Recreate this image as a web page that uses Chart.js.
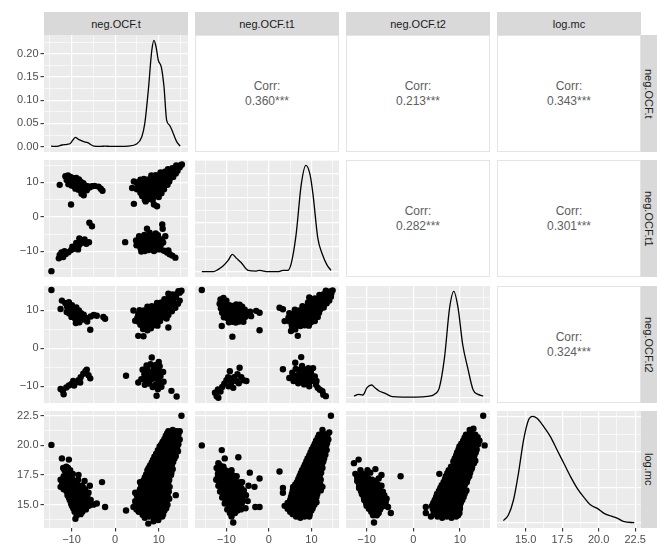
<!DOCTYPE html>
<html><head><meta charset="utf-8">
<script src="https://cdn.jsdelivr.net/npm/chart.js@4.4.0/dist/chart.umd.min.js"></script>
<style>
html,body{margin:0;padding:0;background:#fff;}
body{width:657px;height:549px;position:relative;overflow:hidden;font-family:"Liberation Sans",Arial,sans-serif;}
canvas{position:absolute;}
.strip{position:absolute;background:#D9D9D9;color:#1A1A1A;font-size:11px;display:flex;align-items:center;justify-content:center;white-space:nowrap;}
.vstrip{writing-mode:vertical-rl;}
.corr{position:absolute;background:#fff;border:1px solid #E4E4E4;box-sizing:border-box;color:#5E5E5E;font-size:12px;line-height:15px;display:flex;flex-direction:column;align-items:center;justify-content:center;}
</style>
</head><body>
<script>
// ---------------- DATA ----------------
const varNames = ['neg.OCF.t','neg.OCF.t1','neg.OCF.t2','log.mc'];
const ticksOCF = [-10,0,10];
const ticksMc  = [15,17.5,20,22.5];
const ticksDensOCF = [0,0.05,0.1,0.15,0.2];
const ticksDensMc  = [0,0.1,0.2,0.3];
const corrRows = [0,0,0,1,1,2];
const corrCols = [1,2,3,2,3,3];
const corrValues = ['0.360***','0.213***','0.343***','0.282***','0.301***','0.324***'];

// densities (diagonal)
const dens_t_x = [-14.7,-13.3,-12.2,-11,-10.3,-9.7,-9.1,-8.4,-7.2,-6.3,-4.9,-3.4,-2.3,-1.1,1.1,3,4.9,6.1,6.8,7.6,8.4,8.9,9.4,9.9,10.6,11.2,11.8,12.5,13.3,14.1,14.9];
const dens_t_y = [0.001,0.0005,0.0036,0.005,0.007,0.014,0.02,0.0157,0.011,0.0086,0.0014,0.0005,0.0014,0.0005,0.0005,0.0014,0.0057,0.021,0.05,0.121,0.207,0.229,0.214,0.186,0.171,0.129,0.057,0.046,0.029,0.011,0.0014];
const dens_t1_x = [-15.8,-13.1,-11.9,-10.8,-9.6,-8.6,-7.6,-6.5,-4.9,-3,-2.2,-0.2,2.1,3.3,4.4,5.2,6.4,7.6,8.7,9.7,10.4,11.5,12.6,13.6,14.6];
const dens_t1_y = [0,0,0.0048,0.0114,0.0229,0.035,0.027,0.0181,0.0026,0.0013,0.0026,0,0,0.0026,0.0026,0.0149,0.0754,0.1763,0.216,0.1966,0.1555,0.0687,0.035,0.0149,0.0026];
const dens_t2_x = [-12.7,-11.7,-10.8,-9.9,-8.9,-8.2,-7.3,-5.9,-4.5,-2.3,0.6,3.1,4.5,5.6,6.7,7.8,8.7,9.6,10.6,11.7,12.8,13.9,15.0];
const dens_t2_y = [0.0038,0.0074,0.006,0.0226,0.0286,0.0226,0.0151,0.0091,0.0022,0.0014,0.0014,0.0031,0.0074,0.0226,0.0902,0.203,0.24,0.203,0.12,0.0662,0.0187,0.0074,0.0038];
const dens_mc_x = [13.47,13.81,14.16,14.5,14.85,15.19,15.49,15.77,16.23,16.69,17.15,17.61,18.07,18.53,18.99,19.45,19.91,20.37,20.83,21.29,21.75,22.44];
const dens_mc_y = [0.0057,0.0216,0.0639,0.1392,0.2331,0.2898,0.3,0.2943,0.2709,0.2427,0.2049,0.1674,0.1299,0.0969,0.0714,0.0498,0.0405,0.0264,0.0189,0.0123,0.0027,0];

// scatter: x = column variable, y = row variable
const pts_t_t1 = [
[-12.7,9.3],[-11.4,11.8],[-10.8,12.0],[-10.2,11.6],[-9.6,11.2],[-8.9,11.3],[-8.3,10.9],
[-11.1,10.7],[-10.5,10.3],[-9.9,10.5],[-9.2,10.1],[-8.6,9.9],[-7.9,10.2],[-7.3,9.8],
[-10.7,9.5],[-10.0,9.1],[-9.4,8.9],[-8.8,9.2],[-8.1,9.0],[-7.5,8.7],[-6.9,9.1],[-6.3,8.9],
[-9.1,8.2],[-8.4,7.9],[-7.7,7.5],[-7.1,8.1],[-6.5,7.7],[-5.9,8.5],[-5.3,8.9],
[-7.7,6.7],[-7.2,6.3],[-4.7,9.0],[-3.8,8.8],[-3.3,8.2],[-2.9,7.6],[-10.1,3.6],
[3.9,8.4],[4.3,10.3],[4.3,3.8],[5.8,10.8],
[6.8,5.0],[7.8,5.2],[8.6,4.9],[7.0,4.5],[8.9,3.6],[9.6,3.1],
[6.2,6.1],[7.2,6.0],[8.2,6.2],[9.2,6.0],[10.0,5.8],
[5.8,7.0],[6.8,7.1],[7.8,6.9],[8.8,7.0],[9.8,7.1],[10.6,6.9],
[5.0,8.0],[5.9,8.1],[6.8,7.9],[7.7,8.1],[8.6,8.0],[9.5,7.9],[10.4,8.1],[11.2,8.0],
[5.2,9.1],[6.2,9.0],[7.2,9.1],[8.2,8.9],[9.2,9.1],[10.2,9.0],[11.2,9.1],[12.0,9.3],
[4.9,10.0],[5.7,9.9],[6.5,10.1],[7.5,10.0],[8.5,9.9],[9.5,10.1],[10.5,10.0],[11.5,10.0],[12.4,10.3],
[6.6,11.0],[7.6,10.9],[8.6,11.1],[9.6,11.0],[10.6,11.1],[11.6,11.0],[12.6,11.2],[13.3,11.6],
[8.3,12.0],[9.3,12.1],[10.3,11.9],[11.2,12.1],[12.1,12.0],[13.0,12.3],[13.9,12.6],
[10.4,12.9],[11.4,13.1],[12.4,13.0],[13.4,13.2],[14.3,13.4],
[12.1,13.8],[13.1,14.1],[14.0,14.2],[14.8,14.4],
[14.0,14.9],[15.0,15.0],[15.3,15.2],
[-14.6,-15.7],[-12.9,-12.0],[-12.7,-11.0],[-12.3,-10.3],[-11.9,-11.6],[-11.3,-10.7],[-11.6,-9.9],[-10.7,-10.2],[-10.1,-9.6],[-9.5,-9.2],[-9.0,-8.7],[-8.5,-9.4],[-8.3,-8.2],[-7.8,-7.6],[-7.2,-7.1],[-6.6,-7.8],[-6.0,-7.3],[-8.9,-7.5],[-9.8,-8.6],[-8.2,-6.2],[-7.0,-6.5],[-5.9,-1.7],[-5.3,-2.7],
[2.3,-7.3],[4.8,-6.8],[4.9,-8.2],[5.6,-7.4],[5.8,-9.0],[6.2,-6.2],[6.5,-8.0],[6.7,-5.2],[7.0,-7.0],[7.3,-3.4],[7.4,-8.6],[7.6,-6.0],[7.9,-4.6],[8.0,-7.6],[8.3,-9.2],[8.5,-5.4],[8.7,-6.8],[9.0,-8.2],[9.3,-4.8],[9.5,-7.2],[9.6,-9.4],[10.0,-6.2],[10.3,-8.6],[10.8,-2.2],[10.9,-3.4],[11.0,-7.4],[11.2,-9.8],[11.5,-5.6],[11.9,-10.3],[12.5,-10.8],[13.1,-11.2],[13.8,-11.8],[6.0,-10.0],[5.5,-5.6],[6.9,-6.3],[8.1,-6.5],[9.1,-5.9],[10.5,-7.9],[7.1,-9.3],
[6.0,-7.8],[7.3,-7.8],[8.4,-7.0],[9.8,-7.9],[6.6,-6.6],[7.8,-5.3],[8.9,-6.2],[9.8,-5.3],[10.7,-6.6],[7.7,-9.6],[8.9,-9.9],[6.8,-9.9],[10.4,-9.4],[12.2,-9.7]
];
const pts_t_t2 = [
[-14.6,15.4],
[-12.5,10.4],[-12.2,12.6],[-11.4,11.9],[-10.6,12.2],[-9.9,11.4],[-11.0,11.0],[-10.3,10.5],[-9.6,10.2],[-8.9,10.8],[-8.3,10.0],[-11.1,9.6],[-10.5,9.2],[-9.8,9.4],[-9.1,9.1],[-8.5,8.7],[-7.8,9.3],[-7.2,8.9],[-10.0,8.3],[-9.3,8.0],[-8.7,7.6],[-8.0,7.9],[-7.4,7.6],[-6.8,8.1],[-6.4,7.1],[-8.2,6.9],[-9.0,6.7],[-5.6,8.4],[-4.9,8.8],[-4.2,8.6],[-2.7,8.3],[-2.3,7.8],[-5.7,4.9],
[4.2,10.0],[4.6,7.3],[5.3,3.3],[6.5,3.2],[12.2,5.5],
[6.4,5.1],[7.4,4.8],[8.2,5.3],
[5.8,6.2],[6.8,6.0],[7.8,6.3],[8.8,6.1],[9.7,6.0],
[5.4,7.0],[6.3,7.2],[7.3,7.0],[8.3,7.1],[9.3,7.0],[10.3,7.2],
[5.1,8.1],[6.0,8.0],[7.0,8.2],[8.0,7.9],[9.0,8.1],[10.0,8.0],[10.9,8.2],[11.8,7.9],
[5.3,9.1],[6.3,9.0],[7.3,9.2],[8.3,9.0],[9.3,9.1],[10.3,9.0],[11.2,9.3],[12.2,8.8],
[5.6,10.1],[6.6,10.0],[7.6,10.2],[8.6,10.0],[9.6,10.1],[10.6,10.0],[11.6,10.2],[12.3,10.5],[13.0,9.8],
[7.4,11.0],[8.4,11.1],[9.4,10.9],[10.4,11.1],[11.4,11.0],[12.4,11.2],[13.1,11.6],[13.8,10.7],
[9.6,12.0],[10.6,12.1],[11.5,11.9],[12.4,12.2],[13.3,12.4],[14.4,11.8],
[11.3,13.0],[12.2,13.1],[13.1,13.2],[13.9,13.5],[14.8,12.6],
[12.2,14.4],[13.2,14.2],[14.1,14.3],[14.8,14.7],
[14.5,15.1],[15.2,15.2],
[-12.5,-10.7],[-11.8,-12.1],[-12.0,-11.2],[-11.2,-10.3],[-10.6,-9.8],[-10.0,-9.4],[-9.4,-9.8],[-8.9,-8.9],[-8.4,-8.4],[-7.9,-7.6],[-7.3,-6.7],[-6.8,-6.0],[-6.5,-5.6],[-6.1,-7.1],[-5.7,-7.9],[-8.0,-9.0],[-9.6,-8.6],
[2.5,-7.2],[5.3,-9.0],[6.0,-8.1],[6.7,-6.8],[7.1,-8.6],[7.4,-5.4],[7.6,-7.4],[7.9,-9.3],[8.1,-4.2],[8.4,-2.4],[8.3,-6.3],[8.6,-8.0],[8.9,-5.2],[9.1,-7.1],[9.3,-9.6],[9.6,-6.0],[9.9,-8.4],[10.2,-4.7],[10.4,-7.3],[10.6,-10.1],[11.0,-6.2],[11.1,-8.8],[7.2,-4.5],[9.5,-12.5],[12.9,-11.2],[14.1,-12.7],[6.3,-5.6],[10.0,-3.6],
[7.0,-7.6],[8.0,-8.2],[8.9,-7.6],[9.6,-8.0],[10.3,-6.2],[7.9,-6.8],[8.8,-6.6],[9.3,-4.4],[6.8,-9.6],[8.6,-10.2],[10.0,-9.5],[7.4,-6.2],[9.8,-10.8]
];
const pts_t1_t2 = [
[-15.8,15.4],
[-11.4,12.9],[-10.7,13.3],[-10.0,12.6],[-11.6,11.8],[-10.8,11.6],[-10.1,11.7],[-9.3,11.4],[-8.5,11.2],[-7.7,11.6],[-6.9,11.5],[-6.3,11.0],[-11.3,10.6],[-10.5,10.4],[-9.7,10.5],[-8.9,10.2],[-8.1,10.4],[-7.3,10.1],[-6.5,10.3],[-5.7,10.2],[-11.0,9.4],[-10.2,9.2],[-9.4,9.1],[-8.6,9.3],[-7.8,9.0],[-7.0,9.2],[-6.2,9.0],[-5.2,9.4],[-4.4,9.7],[-3.0,9.9],[-2.2,9.4],[-10.6,8.2],[-9.8,8.0],[-9.0,7.9],[-8.2,8.1],[-7.4,7.9],[-6.6,8.0],[-5.6,8.3],[-9.4,6.9],[-8.6,7.0],[-7.8,6.8],[-7.0,7.1],[-6.0,7.0],[-11.1,5.9],[-8.6,3.1],[-2.2,4.8],[-4.2,8.5],
[2.5,10.7],[3.7,7.2],[3.3,10.3],[5.2,4.6],[6.8,3.3],[6.2,5.0],
[5.4,6.0],[6.4,6.2],[7.4,5.9],[8.4,6.1],[9.4,6.0],
[4.9,7.1],[5.9,7.0],[6.9,7.2],[7.9,7.0],[8.9,7.1],[9.9,6.9],[10.8,7.2],
[4.6,8.1],[5.6,8.0],[6.6,8.2],[7.6,8.0],[8.6,8.1],[9.6,7.9],[10.6,8.1],[11.5,8.3],
[4.8,9.3],[5.8,9.1],[6.8,9.0],[7.8,9.2],[8.8,9.0],[9.8,9.1],[10.8,9.0],[11.8,9.4],
[6.1,10.2],[7.1,10.0],[8.1,10.1],[9.1,10.0],[10.1,10.2],[11.1,10.0],[12.1,10.3],[12.9,10.8],
[7.9,11.1],[8.9,11.0],[9.9,11.2],[10.9,11.0],[11.9,11.2],[12.9,11.5],[13.6,11.9],
[9.2,12.1],[10.2,12.2],[11.2,12.0],[12.2,12.3],[13.2,12.4],[14.2,12.6],
[9.5,13.4],[10.8,13.2],[11.8,13.3],[12.8,13.4],[13.8,13.5],[14.6,13.6],
[11.9,14.1],[12.9,14.3],[13.8,14.4],[14.7,14.5],
[13.4,15.2],[14.4,15.0],[15.0,15.3],
[-12.7,-11.7],[-12.3,-12.6],[-11.9,-13.0],[-12.0,-10.8],[-11.4,-11.4],[-11.0,-10.2],[-10.5,-9.3],[-10.0,-8.4],[-9.6,-7.6],[-9.2,-6.0],[-8.8,-8.9],[-8.4,-10.4],[-8.2,-7.6],[-7.7,-8.6],[-7.4,-6.8],[-6.9,-5.1],[-6.5,-7.6],[-6.0,-8.4],[-5.3,-8.6],[-9.5,-10.0],[-7.1,-9.2],
[3.3,-5.5],[7.6,-2.3],[4.8,-7.8],[5.5,-6.4],[5.8,-8.6],[6.3,-5.4],[6.5,-7.4],[6.9,-9.2],[7.2,-6.2],[7.4,-8.0],[7.8,-4.6],[8.1,-7.0],[8.3,-9.5],[8.6,-5.6],[8.9,-8.2],[9.2,-6.6],[9.5,-10.0],[9.9,-6.4],[10.0,-8.6],[10.4,-5.2],[10.8,-7.4],[11.1,-9.6],[11.5,-10.4],[12.0,-10.9],[12.6,-11.3],[13.4,-12.6],[12.8,-12.2],[6.2,-3.8],
[6.0,-7.2],[7.0,-7.0],[7.9,-7.8],[8.8,-6.9],[9.6,-7.4],[10.4,-8.0],[9.1,-9.1],[8.1,-8.7],[7.5,-5.5],[9.3,-5.2],[11.2,-8.6],[6.2,-8.3]
];
const pts_t_mc = [
[-14.6,20.04],
[-12.2,18.9],[-10.6,18.8],[-11.9,18.1],[-11.2,18.2],[-12.5,17.1],[-12.5,16.5],[-11.8,17.4],[-11.0,17.6],[-10.3,17.9],[-11.5,16.7],[-10.7,16.9],[-9.9,17.2],[-11.1,16.1],[-10.3,16.3],[-9.5,16.5],[-8.7,16.7],[-10.6,15.6],[-9.8,15.8],[-9.0,16.0],[-8.2,16.2],[-7.4,16.5],[-10.1,15.1],[-9.3,15.3],[-8.5,15.4],[-7.7,15.6],[-6.9,15.8],[-6.1,16.0],[-9.6,14.7],[-8.8,14.8],[-8.0,14.9],[-7.2,15.1],[-6.4,15.2],[-5.6,15.4],[-9.1,13.8],[-8.4,14.3],[-7.5,14.4],[-6.7,14.6],[-5.0,15.0],[-4.2,15.1],[-2.3,14.8],[-3.0,16.9],[-7.0,17.0],[-5.8,16.6],[-8.4,17.5],
[-11.6,17.9],[-10.8,18.1],[-12.1,16.8],[-11.3,17.0],[-10.5,17.3],[-9.7,17.6],[-11.8,16.3],[-10.9,16.4],[-10.1,16.7],[-9.3,16.9],[-8.5,17.1],[-10.9,15.8],[-10.1,16.0],[-9.3,16.2],[-8.5,16.4],[-7.7,16.6],[-6.9,16.3],[-10.4,15.4],[-9.6,15.5],[-8.8,15.6],[-8.0,15.8],[-7.2,15.9],[-6.4,15.7],[-5.8,15.2],[-9.9,14.9],[-9.1,15.0],[-8.3,15.2],[-7.5,15.3],[-6.7,15.4],[-6.0,14.9],[-9.3,14.4],[-8.6,14.6],[-7.8,14.7],[-7.0,14.8],[-8.8,14.1],[-7.9,14.2],
[7.6,13.4],[8.8,13.6],[9.9,13.7],
[6.8,13.9],[7.8,14.0],[8.8,14.0],[9.8,14.1],[10.8,14.0],
[5.4,14.4],[6.4,14.4],[7.4,14.5],[8.4,14.4],[9.4,14.5],[10.4,14.4],[11.3,14.5],
[4.2,14.8],[5.2,14.9],[6.2,14.8],[7.2,14.9],[8.2,14.8],[9.2,14.9],[10.2,14.8],[11.2,14.9],[12.0,15.0],
[4.6,15.3],[5.6,15.3],[6.6,15.4],[7.6,15.3],[8.6,15.3],[9.6,15.4],[10.6,15.3],[11.6,15.3],[12.4,15.5],
[5.0,15.8],[6.0,15.9],[7.0,15.8],[8.0,15.8],[9.0,15.9],[10.0,15.8],[11.0,15.8],[12.0,15.9],
[5.7,16.3],[6.7,16.4],[7.7,16.3],[8.7,16.3],[9.7,16.4],[10.7,16.3],[11.7,16.3],[12.5,16.5],
[6.2,16.9],[7.2,16.8],[8.2,16.8],[9.2,16.9],[10.2,16.8],[11.2,16.8],[12.2,16.9],
[6.8,17.3],[7.8,17.3],[8.8,17.4],[9.8,17.3],[10.8,17.3],[11.8,17.4],[12.8,17.5],
[7.4,17.9],[8.4,17.8],[9.4,17.8],[10.4,17.9],[11.4,17.8],[12.4,17.8],[13.2,18.0],
[8.0,18.3],[9.0,18.4],[10.0,18.3],[11.0,18.3],[12.0,18.4],[13.0,18.3],
[8.7,18.8],[9.7,18.9],[10.7,18.8],[11.7,18.8],[12.7,18.9],[13.6,18.9],
[9.4,19.3],[10.4,19.4],[11.4,19.3],[12.4,19.3],[13.4,19.4],[14.4,19.5],
[10.2,19.9],[11.2,19.8],[12.2,19.8],[13.2,19.9],[14.2,19.8],
[10.9,20.3],[11.9,20.4],[12.9,20.3],[13.8,20.3],[14.8,20.5],
[11.6,20.8],[12.6,20.9],[13.5,20.8],[14.5,20.9],
[12.2,21.2],[13.2,21.3],[14.1,21.2],[14.8,21.2],
[15.2,22.5],[2.5,14.5],[4.6,16.0],[5.7,16.9],[13.9,15.8],
[6.3,14.15],[7.3,14.2],[8.3,14.15],[9.3,14.2],[10.3,14.15],[11.0,14.2],
[4.9,14.6],[5.9,14.65],[6.9,14.6],[7.9,14.65],[8.9,14.6],[9.9,14.65],[10.9,14.6],[11.7,14.7],
[4.7,15.05],[5.7,15.1],[6.7,15.05],[7.7,15.1],[8.7,15.05],[9.7,15.1],[10.7,15.05],[11.7,15.1],
[5.1,15.55],[6.1,15.6],[7.1,15.55],[8.1,15.6],[9.1,15.55],[10.1,15.6],[11.1,15.55],[12.1,15.6],
[5.5,16.05],[6.5,16.1],[7.5,16.05],[8.5,16.1],[9.5,16.05],[10.5,16.1],[11.5,16.05],[12.3,16.1],
[6.0,16.6],[7.0,16.55],[8.0,16.6],[9.0,16.55],[10.0,16.6],[11.0,16.55],[12.0,16.6],
[6.5,17.05],[7.5,17.1],[8.5,17.05],[9.5,17.1],[10.5,17.05],[11.5,17.1],[12.4,17.1],
[7.1,17.55],[8.1,17.6],[9.1,17.55],[10.1,17.6],[11.1,17.55],[12.1,17.6],[12.9,17.7],
[7.7,18.1],[8.7,18.05],[9.7,18.1],[10.7,18.05],[11.7,18.1],[12.7,18.05],
[8.4,18.55],[9.4,18.6],[10.4,18.55],[11.4,18.6],[12.4,18.55],[13.3,18.6],
[9.0,19.05],[10.0,19.1],[11.0,19.05],[12.0,19.1],[13.0,19.05],[13.9,19.1],
[9.8,19.6],[10.8,19.55],[11.8,19.6],[12.8,19.55],[13.8,19.6],
[10.6,20.1],[11.6,20.05],[12.6,20.1],[13.6,20.05],[14.5,20.1],
[11.3,20.55],[12.3,20.6],[13.2,20.55],[14.1,20.6],
[11.9,21.0],[12.9,21.05],[13.9,21.0]
];
const pts_t1_mc = [
[-15.8,20.0],[-11.1,19.6],[-10.4,18.9],[-7.2,19.0],[-11.9,18.5],
[-12.3,18.1],[-11.5,18.3],[-10.7,18.2],[-12.0,17.6],[-11.2,17.7],[-10.4,17.6],[-9.6,17.8],[-8.8,17.9],[-12.4,17.1],[-11.6,17.1],[-10.8,17.2],[-10.0,17.1],[-9.2,17.3],[-8.4,17.2],[-7.6,17.4],[-11.9,16.6],[-11.1,16.7],[-10.3,16.6],[-9.5,16.7],[-8.7,16.6],[-7.9,16.8],[-7.1,16.7],[-6.3,16.9],[-11.5,16.1],[-10.7,16.2],[-9.9,16.1],[-9.1,16.2],[-8.3,16.1],[-7.5,16.2],[-6.7,16.0],[-5.9,16.2],[-11.0,15.6],[-10.2,15.6],[-9.4,15.7],[-8.6,15.6],[-7.8,15.7],[-7.0,15.5],[-6.2,15.6],[-5.4,15.8],[-10.4,15.1],[-9.6,15.1],[-8.8,15.2],[-8.0,15.1],[-7.2,15.0],[-6.4,15.1],[-5.0,15.3],[-9.8,14.6],[-9.0,14.6],[-8.2,14.7],[-7.4,14.5],[-6.6,14.6],[-8.8,14.0],[-8.4,13.5],[-5.5,14.7],[-4.8,16.6],[-3.4,16.5],[-2.2,17.2],[-2.2,14.8],[-3.2,14.8],[-4.5,17.7],
[-11.9,17.9],[-11.1,18.0],[-10.3,17.9],[-12.0,17.35],[-11.2,17.4],[-10.4,17.35],[-9.6,17.5],[-8.8,17.6],[-8.0,17.4],[-11.5,16.85],[-10.7,16.9],[-9.9,16.85],[-9.1,16.9],[-8.3,16.85],[-7.5,16.9],[-6.7,16.9],[-11.3,16.35],[-10.5,16.4],[-9.7,16.35],[-8.9,16.4],[-8.1,16.35],[-7.3,16.4],[-6.5,16.4],[-10.8,15.85],[-10.0,15.9],[-9.2,15.85],[-8.4,15.9],[-7.6,15.85],[-6.8,15.9],[-6.0,15.85],[-10.2,15.35],[-9.4,15.4],[-8.6,15.35],[-7.8,15.4],[-7.0,15.35],[-6.2,15.35],[-9.4,14.85],[-8.6,14.9],[-7.8,14.85],[-7.0,14.8],[-9.2,14.3],[-8.0,14.3],
[2.5,17.8],[3.3,16.4],[3.3,16.0],
[6.4,14.0],[7.4,13.9],[8.4,14.0],[9.5,14.0],
[5.0,14.4],[6.0,14.4],[7.0,14.5],[8.0,14.4],[9.0,14.4],[10.0,14.5],
[3.7,14.9],[4.8,14.9],[5.8,14.9],[6.8,15.0],[7.8,14.9],[8.8,14.9],[9.8,14.9],[10.7,15.0],
[5.0,15.4],[6.0,15.4],[7.0,15.4],[8.0,15.5],[9.0,15.4],[10.0,15.4],[11.0,15.4],
[5.4,15.9],[6.4,15.9],[7.4,16.0],[8.4,15.9],[9.4,15.9],[10.4,15.9],[11.4,15.9],
[5.7,16.5],[6.7,16.4],[7.7,16.4],[8.7,16.4],[9.7,16.5],[10.7,16.4],[11.7,16.4],[12.6,16.5],
[6.6,16.9],[7.6,16.9],[8.6,17.0],[9.6,16.9],[10.6,16.9],[11.6,16.9],[12.2,17.1],
[7.2,17.4],[8.2,17.4],[9.2,17.5],[10.2,17.4],[11.2,17.4],[12.0,17.5],
[7.8,17.9],[8.8,17.9],[9.8,18.0],[10.8,17.9],[11.8,17.9],[12.6,18.1],
[8.5,18.4],[9.5,18.4],[10.5,18.5],[11.5,18.4],[12.5,18.4],
[9.1,18.9],[10.1,18.9],[11.1,19.0],[12.1,18.9],[13.0,18.9],
[9.8,19.4],[10.8,19.5],[11.8,19.4],[12.8,19.4],[13.6,19.6],
[10.5,19.9],[11.5,20.0],[12.5,19.9],[13.5,20.0],
[11.1,20.4],[12.1,20.5],[13.1,20.4],[14.0,20.5],
[11.8,20.9],[12.8,21.0],[13.8,20.9],[14.2,21.1],
[12.6,21.3],[14.6,22.5],
[5.6,14.2],[6.6,14.25],[7.6,14.2],[8.6,14.25],[9.6,14.2],
[4.4,14.65],[5.4,14.7],[6.4,14.65],[7.4,14.7],[8.4,14.65],[9.4,14.7],[10.3,14.7],
[4.4,15.15],[5.4,15.2],[6.4,15.15],[7.4,15.2],[8.4,15.15],[9.4,15.2],[10.4,15.15],[11.2,15.2],
[5.2,15.65],[6.2,15.7],[7.2,15.65],[8.2,15.7],[9.2,15.65],[10.2,15.7],[11.2,15.65],
[5.6,16.2],[6.6,16.15],[7.6,16.2],[8.6,16.15],[9.6,16.2],[10.6,16.15],[11.6,16.2],[12.2,16.2],
[6.2,16.7],[7.2,16.65],[8.2,16.7],[9.2,16.65],[10.2,16.7],[11.2,16.65],[12.1,16.7],
[6.9,17.15],[7.9,17.2],[8.9,17.15],[9.9,17.2],[10.9,17.15],[11.8,17.2],
[7.5,17.65],[8.5,17.7],[9.5,17.65],[10.5,17.7],[11.5,17.65],[12.3,17.7],
[8.2,18.15],[9.2,18.2],[10.2,18.15],[11.2,18.2],[12.2,18.15],
[8.8,18.65],[9.8,18.7],[10.8,18.65],[11.8,18.7],[12.8,18.65],
[9.5,19.15],[10.5,19.2],[11.5,19.15],[12.5,19.2],[13.3,19.2],
[10.1,19.65],[11.1,19.7],[12.1,19.65],[13.1,19.7],
[10.8,20.15],[11.8,20.2],[12.8,20.15],[13.7,20.2],
[11.5,20.65],[12.5,20.7],[13.5,20.65]
];
const pts_t2_mc = [
[-12.7,18.5],[-11.7,18.8],[-11.3,17.9],[-8.1,18.0],[-6.8,17.5],[-2.7,17.4],
[-12.4,17.6],[-11.6,17.4],[-10.8,17.6],[-10.0,17.5],[-9.2,17.7],[-12.0,17.0],[-11.2,16.9],[-10.4,17.0],[-9.6,16.9],[-8.8,17.1],[-8.0,17.0],[-11.6,16.4],[-10.8,16.4],[-10.0,16.5],[-9.2,16.4],[-8.4,16.5],[-7.6,16.4],[-6.8,16.6],[-11.0,15.9],[-10.2,15.9],[-9.4,16.0],[-8.6,15.9],[-7.8,15.9],[-7.0,16.0],[-6.2,15.8],[-10.5,15.4],[-9.7,15.4],[-8.9,15.5],[-8.1,15.4],[-7.3,15.4],[-6.5,15.3],[-5.7,15.5],[-10.0,14.9],[-9.2,14.9],[-8.4,15.0],[-7.6,14.9],[-6.8,14.8],[-6.0,14.9],[-9.0,14.4],[-8.2,14.4],[-7.4,14.3],[-4.8,14.3],[-8.4,13.5],[-5.4,14.8],[-9.8,17.9],[-7.4,17.2],
[-12.0,17.3],[-11.2,17.2],[-10.4,17.3],[-9.6,17.2],[-11.6,16.7],[-10.8,16.7],[-10.0,16.75],[-9.2,16.7],[-8.4,16.8],[-7.6,16.7],[-11.2,16.15],[-10.4,16.2],[-9.6,16.25],[-8.8,16.15],[-8.0,16.2],[-7.2,16.2],[-6.5,16.1],[-10.6,15.65],[-9.8,15.7],[-9.0,15.65],[-8.2,15.7],[-7.4,15.65],[-6.6,15.6],[-5.9,15.2],[-10.1,15.15],[-9.3,15.2],[-8.5,15.15],[-7.7,15.2],[-6.9,15.1],[-6.2,15.1],[-9.5,14.65],[-8.7,14.7],[-7.9,14.65],[-7.1,14.6],[-8.6,14.1],[-7.8,14.1],
[2.7,14.8],[2.7,14.3],[3.8,14.0],[5.6,17.6],
[5.2,14.0],[6.2,13.9],[7.2,14.0],[8.2,13.9],[9.2,14.0],
[4.4,14.4],[5.4,14.4],[6.4,14.5],[7.4,14.4],[8.4,14.4],[9.4,14.5],[9.9,14.3],
[4.0,14.9],[5.0,14.9],[6.0,14.9],[7.0,15.0],[8.0,14.9],[9.0,14.9],[10.0,14.9],
[4.6,15.4],[5.6,15.4],[6.6,15.4],[7.6,15.5],[8.6,15.4],[9.6,15.4],[10.5,15.4],
[5.1,15.9],[6.1,15.9],[7.1,16.0],[8.1,15.9],[9.1,15.9],[10.1,15.9],[11.0,15.9],
[5.8,16.4],[6.8,16.4],[7.8,16.5],[8.8,16.4],[9.8,16.4],[10.8,16.4],[11.4,16.2],
[6.5,16.9],[7.5,16.9],[8.5,17.0],[9.5,16.9],[10.5,16.9],[11.5,16.9],
[7.0,17.4],[8.0,17.4],[9.0,17.5],[10.0,17.4],[11.0,17.4],[12.0,17.4],
[7.6,17.9],[8.6,17.9],[9.6,18.0],[10.6,17.9],[11.6,17.9],[12.5,18.0],
[8.1,18.2],[9.1,18.4],[10.1,18.4],[11.1,18.5],[12.1,18.4],[13.0,18.5],
[8.9,18.9],[9.9,18.9],[10.9,19.0],[11.9,18.9],[12.9,18.9],[13.3,18.7],
[9.4,19.4],[10.4,19.4],[11.4,19.5],[12.4,19.4],[13.4,19.4],
[9.9,19.9],[10.9,19.9],[11.9,20.0],[12.9,19.9],[13.9,20.1],
[10.7,20.4],[11.7,20.5],[12.7,20.4],[13.7,20.4],[14.2,20.4],
[11.3,20.9],[12.3,21.0],[13.3,20.9],
[12.1,21.3],[12.9,21.4],
[15.0,22.5],[15.3,20.0],
[4.9,14.2],[5.9,14.15],[6.9,14.2],[7.9,14.15],[8.9,14.2],[9.6,14.1],
[4.2,14.65],[5.2,14.7],[6.2,14.65],[7.2,14.7],[8.2,14.65],[9.2,14.7],[10.0,14.65],
[4.3,15.15],[5.3,15.2],[6.3,15.15],[7.3,15.2],[8.3,15.15],[9.3,15.2],[10.2,15.15],
[4.9,15.65],[5.9,15.7],[6.9,15.65],[7.9,15.7],[8.9,15.65],[9.9,15.7],[10.8,15.65],
[5.5,16.15],[6.5,16.2],[7.5,16.15],[8.5,16.2],[9.5,16.15],[10.5,16.2],[11.2,16.1],
[6.1,16.65],[7.1,16.7],[8.1,16.65],[9.1,16.7],[10.1,16.65],[11.1,16.7],
[6.8,17.15],[7.8,17.2],[8.8,17.15],[9.8,17.2],[10.8,17.15],[11.7,17.2],
[7.3,17.65],[8.3,17.7],[9.3,17.65],[10.3,17.7],[11.3,17.65],[12.2,17.7],
[8.6,18.15],[9.6,18.2],[10.6,18.15],[11.6,18.2],[12.6,18.15],
[8.6,18.65],[9.6,18.7],[10.6,18.65],[11.6,18.7],[12.6,18.65],
[9.2,19.15],[10.2,19.2],[11.2,19.15],[12.2,19.2],[13.1,19.15],
[9.7,19.65],[10.7,19.7],[11.7,19.65],[12.7,19.7],[13.6,19.65],
[10.3,20.15],[11.3,20.2],[12.3,20.15],[13.3,20.2],
[11.0,20.65],[12.0,20.7],[13.0,20.65],[13.8,20.7]
];

// ---------------- LAYOUT / STYLE ----------------
const FONT = "'Liberation Sans', Arial, sans-serif";
const colLeft = [44,195,346,497], rowTop = [35,160,286,411];
const PW = 144, PH = 117, AXW = 44, AXH = 21, RIGHT_OVER = 16;
const fmtOCF = v => (v < 0 ? '\u2212' + Math.abs(v) : String(v));
const fmtMc = v => v.toFixed(1);
const fmtDens = v => v.toFixed(2);
function withMinor(major){
  const s = major[1]-major[0];
  const m = major.map(v => +(v - s/2).toFixed(6));
  m.push(+(major[major.length-1] + s/2).toFixed(6));
  return m;
}
const varScales = [
  {min:-16.3, max:16.7,  major:ticksOCF, fmt:fmtOCF},
  {min:-17.4, max:16.5,  major:ticksOCF, fmt:fmtOCF},
  {min:-14.4, max:16.45, major:ticksOCF, fmt:fmtOCF},
  {min:13.03, max:22.9,  major:ticksMc,  fmt:fmtMc}
];
const densData = [[dens_t_x,dens_t_y,ticksDensOCF],[dens_t1_x,dens_t1_y,ticksDensOCF],[dens_t2_x,dens_t2_y,ticksDensOCF],[dens_mc_x,dens_mc_y,ticksDensMc]];
const scatterData = {'1,0':pts_t_t1,'2,0':pts_t_t2,'2,1':pts_t1_t2,'3,0':pts_t_mc,'3,1':pts_t1_mc,'3,2':pts_t2_mc};

function axisCfg(sc, isX, show){
  const majors = sc.major;
  const all = majors.concat(withMinor(majors)).filter(v => v >= sc.min && v <= sc.max).sort((a,b)=>a-b);
  const isMaj = v => majors.some(m => Math.abs(m - v) < 1e-9);
  return {
    type:'linear', bounds:'data', min:sc.min, max:sc.max, position: isX ? 'bottom' : 'left',
    afterBuildTicks: s => { s.ticks = all.map(v => ({value:v})); },
    afterFit: s => {
      if (isX) s.height = show ? AXH : 0; else s.width = show ? AXW : 0;
      s.paddingLeft = s.paddingRight = s.paddingTop = s.paddingBottom = 0;
    },
    grid:{
      color:'#FFFFFF',
      lineWidth: c => (c.tick && isMaj(c.tick.value)) ? 1.2 : 0.6,
      drawTicks: show, tickLength: 3.5, tickWidth: 1.1,
      tickColor: c => (c.tick && isMaj(c.tick.value)) ? '#333333' : 'rgba(0,0,0,0)'
    },
    border:{display:false},
    ticks:{display:show, autoSkip:false, maxRotation:0, minRotation:0, padding:2, color:'#4D4D4D',
      font:{family:FONT, size:11}, callback: v => isMaj(v) ? sc.fmt(v) : ''}
  };
}

const bgPlugin = {id:'panelBg', beforeDraw(chart){
  const a = chart.chartArea, ctx = chart.ctx;
  ctx.save(); ctx.fillStyle = '#EBEBEB'; ctx.fillRect(a.left, a.top, a.right-a.left, a.bottom-a.top); ctx.restore();
}};

function addDiv(cls, x, y, w, h, html){
  const d = document.createElement('div'); d.className = cls;
  d.style.left = x+'px'; d.style.top = y+'px'; d.style.width = w+'px'; d.style.height = h+'px';
  d.innerHTML = html; document.body.appendChild(d); return d;
}

// strips
for (let j=0;j<4;j++) addDiv('strip', colLeft[j], 12, PW, 23, varNames[j]);
for (let i=0;i<4;i++) addDiv('strip vstrip', 641, rowTop[i], 16, PH, varNames[i]);

// correlation panels
for (let k=0;k<corrValues.length;k++){
  const i = corrRows[k], j = corrCols[k];
  addDiv('corr', colLeft[j], rowTop[i], PW, PH, '<div>Corr:</div><div>'+corrValues[k]+'</div>');
}

// chart panels
for (let i=0;i<4;i++){
  for (let j=0;j<=i;j++){
    const showY = (j===0), showX = (i===3);
    const extraR = (showX && j===3) ? RIGHT_OVER : 0;
    const cx = showY ? 0 : colLeft[j];
    const cw = (showY ? colLeft[j] + PW : PW) + extraR;
    const ch = PH + (showX ? AXH : 0);
    const cv = document.createElement('canvas');
    cv.width = cw; cv.height = ch;
    cv.style.left = cx+'px'; cv.style.top = rowTop[i]+'px'; cv.style.width = cw+'px'; cv.style.height = ch+'px';
    document.body.appendChild(cv);
    let xs = varScales[j], ys, datasets;
    if (i===j){
      const [dx,dy,dt] = densData[i];
      const M = Math.max(...dy);
      ys = {min:-0.05*M, max:1.05*M, major:dt, fmt:fmtDens};
      datasets = [{data: dx.map((x,k)=>({x:x, y:dy[k]})), showLine:true, borderColor:'#000', borderWidth:1.3,
        pointRadius:0, tension:0.4, cubicInterpolationMode:'monotone', fill:false}];
    } else {
      ys = varScales[i];
      const pts = scatterData[i+','+j];
      datasets = [{data: pts.map(p=>({x:p[0], y:p[1]})), pointRadius:3.2, pointBackgroundColor:'#000', pointBorderWidth:0, pointBorderColor:'#000', showLine:false}];
    }
    new Chart(cv, {
      type:'scatter',
      data:{datasets},
      options:{
        responsive:false, animation:false, devicePixelRatio:1, events:[],
        layout:{padding:{left:0, top:0, bottom:0, right:extraR}, autoPadding:false},
        plugins:{legend:{display:false}, tooltip:{enabled:false}, title:{display:false}},
        scales:{ x: axisCfg(xs, true, showX), y: axisCfg(ys, false, showY) }
      },
      plugins:[bgPlugin]
    });
  }
}
</script>
</body></html>
